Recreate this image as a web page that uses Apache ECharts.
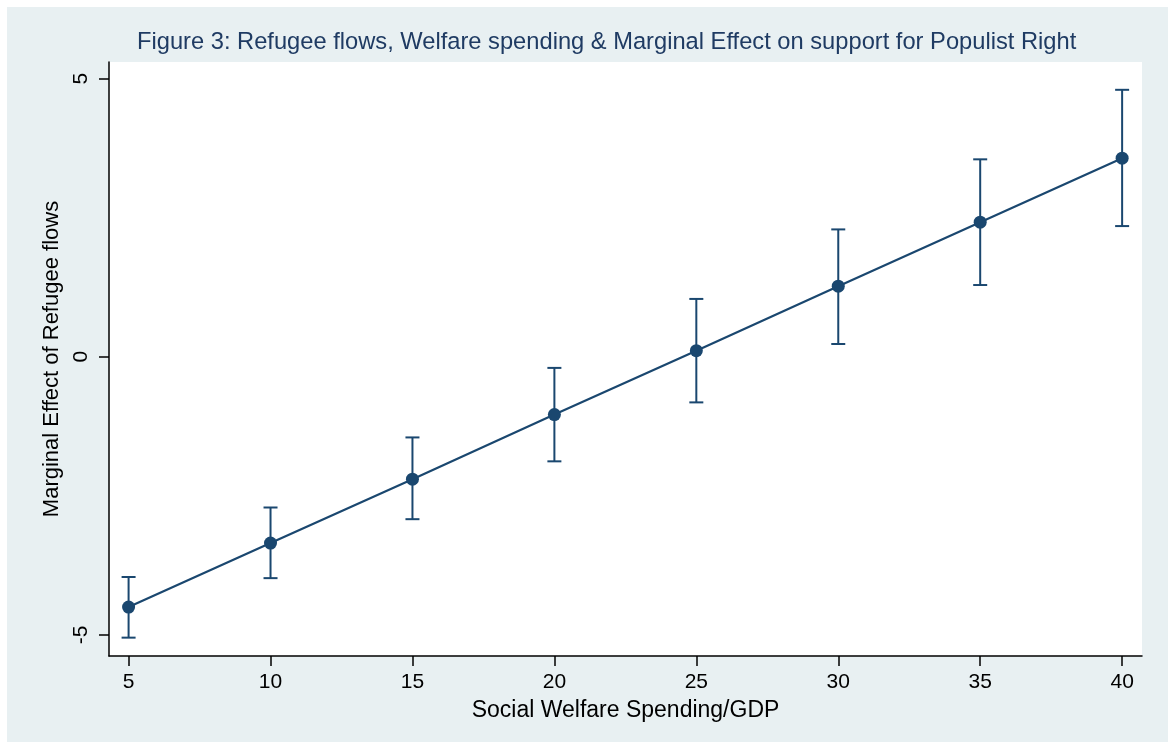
<!DOCTYPE html>
<html>
<head>
<meta charset="utf-8">
<script src="https://cdn.jsdelivr.net/npm/echarts@6/dist/echarts.min.js"></script>
<style>
html,body{margin:0;padding:0;background:#ffffff;}
#c{position:absolute;left:7px;top:7px;width:1161px;height:735px;}
</style>
</head>
<body>
<div id="c"></div>
<script>
const spending = [5, 10, 15, 20, 25, 30, 35, 40];
const effect   = [-4.50, -3.35, -2.20, -1.04, 0.11, 1.27, 2.42, 3.57];
const upper    = [-3.96, -2.71, -1.45, -0.20, 1.04, 2.29, 3.55, 4.80];
const lower    = [-5.05, -3.98, -2.92, -1.88, -0.82, 0.23, 1.29, 2.35];
const xTicks = [5, 10, 15, 20, 25, 30, 35, 40];
const yTicks = [-5, 0, 5];

const navy = '#1a476f';
const font = 'Liberation Sans, Arial, sans-serif';

const chart = echarts.init(document.getElementById('c'));
chart.setOption({
  backgroundColor: '#e8f0f2',
  animation: false,
  title: {
    text: 'Figure 3: Refugee flows, Welfare spending & Marginal Effect on support for Populist Right',
    left: 125,
    top: 18,
    textStyle: {color: '#1f3b63', fontFamily: font, fontSize: 23.7, fontWeight: 'normal'}
  },
  grid: {left: 102, right: 26, top: 55, bottom: 86, show: true, backgroundColor: '#ffffff', borderWidth: 0},
  xAxis: {
    type: 'value', min: 4.31, max: 40.7,
    name: 'Social Welfare Spending/GDP', nameLocation: 'middle', nameGap: 43,
    nameTextStyle: {color: '#000', fontFamily: font, fontSize: 23},
    axisLine: {show: true, onZero: false, lineStyle: {color: '#000', width: 1.5}},
    axisTick: {show: true, length: 10, customValues: xTicks, lineStyle: {color: '#000', width: 1.5}},
    axisLabel: {customValues: xTicks, color: '#000', fontFamily: font, fontSize: 21, margin: 16},
    splitLine: {show: false}
  },
  yAxis: {
    type: 'value', min: -5.38, max: 5.3,
    name: 'Marginal Effect of Refugee flows', nameLocation: 'middle', nameGap: 42, nameRotate: 90,
    nameTextStyle: {color: '#000', fontFamily: font, fontSize: 22},
    axisLine: {show: true, onZero: false, lineStyle: {color: '#000', width: 1.5}},
    axisTick: {show: true, length: 10, customValues: yTicks, lineStyle: {color: '#000', width: 1.5}},
    axisLabel: {customValues: yTicks, rotate: 90, color: '#000', fontFamily: font, fontSize: 21, margin: 17},
    splitLine: {show: false}
  },
  series: [
    {
      type: 'custom',
      data: spending.map((x, i) => [x, lower[i], upper[i]]),
      renderItem: function (params, api) {
        const lo = api.coord([api.value(0), api.value(1)]);
        const hi = api.coord([api.value(0), api.value(2)]);
        const cw = 7;
        const st = {stroke: navy, lineWidth: 2};
        return {type: 'group', children: [
          {type: 'line', shape: {x1: lo[0], y1: lo[1], x2: hi[0], y2: hi[1]}, style: st},
          {type: 'line', shape: {x1: lo[0]-cw, y1: lo[1], x2: lo[0]+cw, y2: lo[1]}, style: st},
          {type: 'line', shape: {x1: hi[0]-cw, y1: hi[1], x2: hi[0]+cw, y2: hi[1]}, style: st}
        ]};
      },
      z: 2
    },
    {
      type: 'line',
      data: spending.map((x, i) => [x, effect[i]]),
      symbol: 'circle', symbolSize: 13,
      lineStyle: {color: navy, width: 2.2},
      itemStyle: {color: navy},
      z: 3
    }
  ]
});
</script>
</body>
</html>
